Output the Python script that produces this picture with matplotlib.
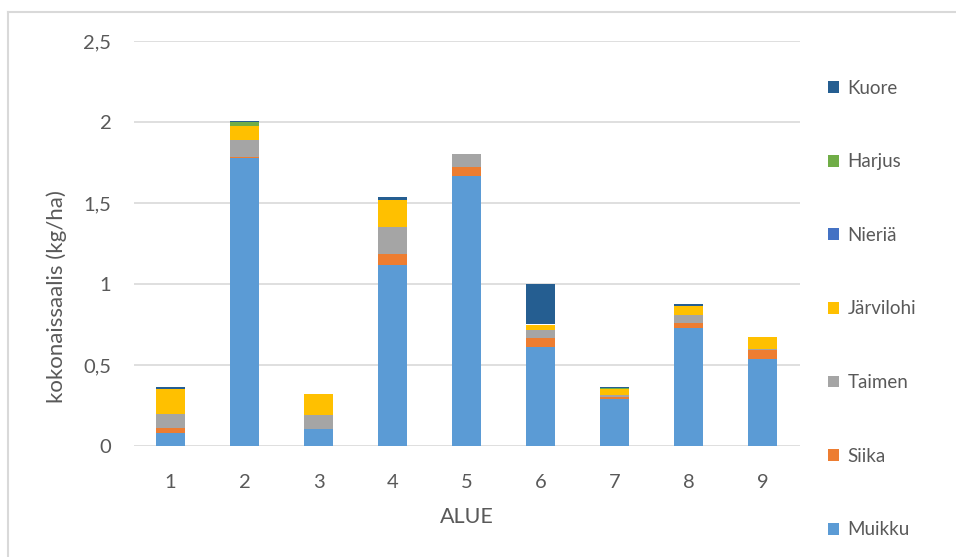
import numpy as np
import matplotlib
matplotlib.use("Agg")
import matplotlib.pyplot as plt
from matplotlib.lines import Line2D
from matplotlib.ticker import FuncFormatter

plt.rcParams["font.family"] = ["Lato", "DejaVu Sans"]

# saalis per alue (kg/ha), lajit pinon alimmasta ylimpään
alueet = ["1", "2", "3", "4", "5", "6", "7", "8", "9"]
muikku = [0.083, 1.777, 0.103, 1.115, 1.668, 0.610, 0.290, 0.731, 0.538]
siika = [0.030, 0.010, 0.000, 0.072, 0.057, 0.057, 0.010, 0.031, 0.054]
taimen = [0.082, 0.103, 0.090, 0.165, 0.080, 0.047, 0.015, 0.047, 0.008]
jarvilohi = [0.155, 0.086, 0.125, 0.164, 0.000, 0.036, 0.037, 0.056, 0.075]
nieria = [0.000, 0.000, 0.000, 0.000, 0.000, 0.000, 0.000, 0.000, 0.000]
harjus = [0.000, 0.024, 0.000, 0.000, 0.000, 0.005, 0.007, 0.000, 0.000]
kuore = [0.016, 0.009, 0.000, 0.018, 0.000, 0.245, 0.006, 0.011, 0.000]

lajit = ["Muikku", "Siika", "Taimen", "Järvilohi", "Nieriä", "Harjus", "Kuore"]
sarjat = [muikku, siika, taimen, jarvilohi, nieria, harjus, kuore]
varit = ["#5B9BD5", "#ED7D31", "#A5A5A5", "#FFC000", "#4472C4", "#70AD47", "#255E91"]

TEXT = "#595959"
GRID = "#D9D9D9"

W, H = 956, 557
fig = plt.figure(figsize=(W / 100, H / 100), dpi=100)
ax = fig.add_axes([133.5 / W, 1 - 446 / H, 666 / W, 405 / H])

x = np.arange(1, len(alueet) + 1)
pohja = np.zeros(len(alueet))
kahvat = []
for nimi, arvot, vari in zip(lajit, sarjat, varit):
    arvot = np.array(arvot)
    b = ax.bar(x, arvot, width=0.4, bottom=pohja, color=vari, linewidth=0, label=nimi, zorder=3)
    kahvat.append(b)
    pohja += arvot

ax.set_xlim(0.5, len(alueet) + 0.5)
ax.set_ylim(0, 2.5)
ax.set_yticks(np.arange(0, 2.51, 0.5))
ax.yaxis.set_major_formatter(FuncFormatter(lambda v, _: f"{v:g}".replace(".", ",")))
ax.set_xticks(x)
ax.set_xticklabels(alueet)
ax.grid(axis="y", color=GRID, linewidth=1.2, zorder=0)
for s in ax.spines.values():
    s.set_visible(False)
ax.tick_params(axis="both", length=0, labelsize=14.5, labelcolor=TEXT)
ax.tick_params(axis="x", pad=20)
ax.tick_params(axis="y", pad=16)

ax.set_xlabel("ALUE", fontsize=15.5, color=TEXT, labelpad=12)
fig.text(57 / W, 1 - 297 / H, "kokonaissaalis (kg/ha)", rotation=90,
         ha="center", va="center", fontsize=16, color=TEXT)

# selite käänteisessä järjestyksessä (Kuore ylimpänä)
fig.legend(kahvat[::-1], lajit[::-1], loc="center left",
           bbox_to_anchor=(828 / W, 1 - 309 / H), frameon=False,
           fontsize=13.5, labelcolor=TEXT, handlelength=0.6, handleheight=0.6,
           handletextpad=0.45, labelspacing=3.02, borderpad=0, borderaxespad=0)

# kaavion kehys ylä- ja vasemmassa reunassa
fig.add_artist(Line2D([8 / W, 8 / W], [0, 1 - 12 / H], color="#D9D9D9", linewidth=1.5,
                      transform=fig.transFigure))
fig.add_artist(Line2D([8 / W, 1], [1 - 12 / H, 1 - 12 / H], color="#D9D9D9", linewidth=1.5,
                      transform=fig.transFigure))

fig.savefig("out.png", dpi=100)
